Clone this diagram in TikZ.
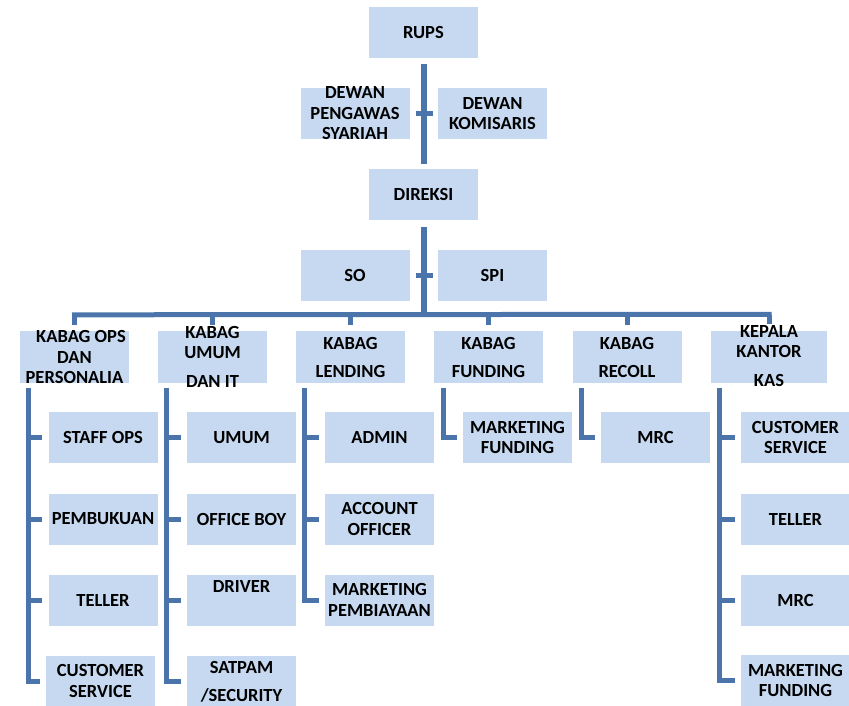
\documentclass[tikz,border=0pt]{standalone}
\usepackage{fontspec}
\setmainfont{Carlito}
\usetikzlibrary{calc}
\definecolor{boxblue}{RGB}{198,217,240}
\definecolor{linecol}{RGB}{74,116,170}
\newcommand\ob[5]{%
  \node[box] (#1) at (#2,#3) {};
  \node[txt] (#1-t) at (#1) {#5};}
\begin{document}
\begin{tikzpicture}[x=1pt,y=-1pt,
  box/.style={fill=boxblue, draw=none, inner sep=0pt, minimum width=109pt, minimum height=51pt},
  txt/.style={inner sep=0pt, align=center, font=\bfseries\fontsize{18.5}{20.5}\selectfont},
  conn/.style={draw=linecol, line width=5pt},
  ]
\useasboundingbox (0,0) rectangle (849,705);
% top
\ob{rups}{423.5}{32.5}{}{RUPS}
\ob{dps}{355}{113.5}{}{DEWAN\\PENGAWAS\\SYARIAH}
\ob{dk}{492.5}{113.5}{}{DEWAN\\KOMISARIS}
\ob{direksi}{423.5}{194.5}{}{DIREKSI}
\ob{so}{355}{275.5}{}{SO}
\ob{spi}{492.5}{275.5}{}{SPI}
% kabag row
\begin{scope}[box/.append style={minimum height=52pt}]
\ob{k1}{74.5}{357}{}{\hspace*{13pt}KABAG OPS\\DAN\\PERSONALIA}
\ob{k2}{212.5}{357}{}{KABAG\\UMUM\\[8.5pt]DAN IT}
\ob{k3}{350.5}{357}{}{KABAG\\[7.5pt]LENDING}
\ob{k4}{488.5}{357}{}{KABAG\\[7.5pt]FUNDING}
\ob{k5}{627}{357}{}{KABAG\\[7.5pt]RECOLL}
\node[box, minimum width=116pt] (k6) at (769,356.5) {};
\node[txt] (k6-t) at (769,356) {KEPALA\\KANTOR\\[8.5pt]KAS};
\end{scope}
% children col1
\ob{c11}{103}{437.5}{}{STAFF OPS}
\ob{c12}{103}{519}{}{PEMBUKUAN}
\ob{c13}{103}{600}{}{TELLER}
\ob{c14}{100.5}{681}{}{CUSTOMER\\SERVICE}
% col2
\ob{c21}{241.5}{437.5}{}{UMUM}
\ob{c22}{241.5}{519}{}{OFFICE BOY}
\node[box] (c23) at (241.5,600) {};
\node[txt] (c23-t) at (241.5,586) {DRIVER};
\ob{c24}{241.5}{681}{}{SATPAM\\[7.5pt]\smash{/}SECURITY}
% col3
\ob{c31}{379.5}{437.5}{}{ADMIN}
\ob{c32}{379.5}{519}{}{ACCOUNT\\OFFICER}
\ob{c33}{379.5}{600}{}{MARKETING\\PEMBIAYAAN}
% col4, col5
\ob{c41}{517.5}{437.5}{}{MARKETING\\FUNDING}
\ob{c51}{655.5}{437.5}{}{MRC}
% col6
\ob{c61}{795.5}{437.5}{}{CUSTOMER\\SERVICE}
\ob{c62}{795.5}{519}{}{TELLER}
\ob{c63}{795.5}{600}{}{MRC}
\ob{c64}{795.5}{680.5}{}{MARKETING\\FUNDING}
% connectors top
\draw[conn, line width=6pt] ($(rups.south)+(0,6)$) -- ($(direksi.north)+(0,-5)$);
\draw[conn] ($(dps.east)+(6,0)$) -- ($(dk.west)+(-5,0)$);
\coordinate (busL) at ($(k1.north)+(0,-16)$);
\coordinate (busR) at ($(k6.north)+(0,-16)$);
\draw[conn, line width=6pt] ($(direksi.south)+(0,7)$) -- (direksi.south |- busL);
\draw[conn] ($(so.east)+(6,0)$) -- ($(spi.west)+(-5,0)$);
\draw[conn, line cap=rect] (busL) -- (busR);
\foreach \kk in {k1,k2,k3,k4,k5,k6}
  \draw[conn] (\kk.north |- busL) -- ($(\kk.north)+(0,-6)$);
% spines
\coordinate (s1) at ($(k1.south west)+(9,5)$);
\draw[conn] (s1) |- ($(c14.west)+(-6,0)$);
\foreach \cc in {c11,c12,c13} \draw[conn] (s1 |- \cc.west) -- ($(\cc.west)+(-6,0)$);
\coordinate (s2) at ($(k2.south west)+(9,5)$);
\draw[conn] (s2) |- ($(c24.west)+(-6,0)$);
\foreach \cc in {c21,c22,c23} \draw[conn] (s2 |- \cc.west) -- ($(\cc.west)+(-6,0)$);
\coordinate (s3) at ($(k3.south west)+(9,5)$);
\draw[conn] (s3) |- ($(c33.west)+(-6,0)$);
\foreach \cc in {c31,c32} \draw[conn] (s3 |- \cc.west) -- ($(\cc.west)+(-6,0)$);
\coordinate (s4) at ($(k4.south west)+(9.5,5)$);
\draw[conn] (s4) |- ($(c41.west)+(-6,0)$);
\coordinate (s5) at ($(k5.south west)+(9,5)$);
\draw[conn] (s5) |- ($(c51.west)+(-6,0)$);
\coordinate (s6) at ($(k6.south west)+(8.5,5)$);
\draw[conn] (s6) |- ($(c64.west)+(-5.5,0)$);
\foreach \cc in {c61,c62,c63} \draw[conn] (s6 |- \cc.west) -- ($(\cc.west)+(-5.5,0)$);
\end{tikzpicture}
\end{document}
